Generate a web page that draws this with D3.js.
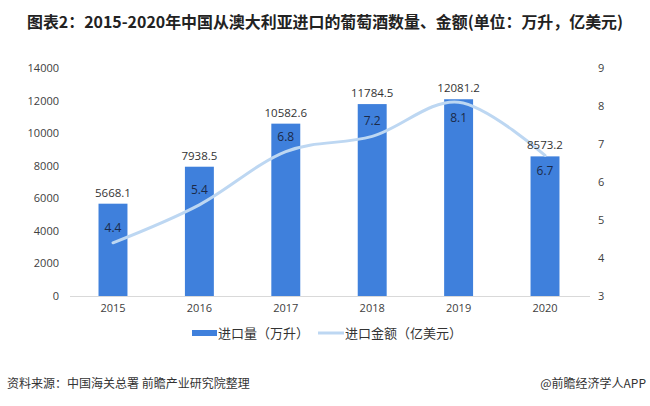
<!DOCTYPE html>
<html><head><meta charset="utf-8">
<script src="https://cdn.jsdelivr.net/npm/d3@7/dist/d3.min.js"></script>
<style>body{margin:0;background:#fff;}svg{display:block;font-family:"Noto Sans CJK SC","Noto Sans",sans-serif;}</style>
</head><body><svg id="c" width="650" height="406"></svg>
<script>
const years = ["2015","2016","2017","2018","2019","2020"];
const volume = [5668.1, 7938.5, 10582.6, 11784.5, 12081.2, 8573.2];
const amount = [4.4, 5.4, 6.8, 7.2, 8.1, 6.7];
const amountLabelSide = ["above","above","above","above","below","below"];
const leftTicks = [0,2000,4000,6000,8000,10000,12000,14000];
const rightTicks = [3,4,5,6,7,8,9];
const title = "图表2：2015-2020年中国从澳大利亚进口的葡萄酒数量、金额(单位：万升，亿美元)";
const legendLabels = ["进口量（万升）","进口金额（亿美元）"];
const source = "资料来源：中国海关总署 前瞻产业研究院整理";
const credit = "@前瞻经济学人APP";

const svg = d3.select("#c");
const barColor = "#3f80dc", lineColor = "#bdd7f2";
const L = 70, R = 588, T = 68, B = 296;

const x = d3.scaleBand().domain(years).range([L, R]).paddingInner(0.665).paddingOuter(0.33);
const yL = d3.scaleLinear().domain([0,14000]).range([B,T]);
const yR = d3.scaleLinear().domain([3,9]).range([B,T]);

svg.append("text").attr("x",27).attr("y",28).attr("font-size",16).attr("font-weight","bold")
  .attr("fill","#222").attr("textLength",596).attr("lengthAdjust","spacingAndGlyphs").text(title);

// axes
const gl = svg.append("g").attr("transform",`translate(${L},0)`)
  .call(d3.axisLeft(yL).tickValues(leftTicks).tickSize(0).tickPadding(11).tickFormat(d3.format("d")));
gl.select(".domain").remove();
const gr = svg.append("g").attr("transform",`translate(${R},0)`)
  .call(d3.axisRight(yR).tickValues(rightTicks).tickSize(0).tickPadding(10).tickFormat(d3.format("d")));
gr.select(".domain").remove();
[gl,gr].forEach(g=>g.selectAll("text").attr("font-size",11).attr("fill","#404040").attr("font-family","'Open Sans',sans-serif"));

const gx = svg.append("g").attr("transform",`translate(0,${B})`)
  .call(d3.axisBottom(x).tickSize(0).tickPadding(8));
gx.select(".domain").attr("stroke","#d9d9d9").attr("d",`M${L},0.5H${R+2}`);
gx.selectAll("text").attr("font-size",11).attr("fill","#404040").attr("font-family","'Open Sans',sans-serif");

// bars
svg.append("g").selectAll("rect").data(years).join("rect")
  .attr("x",d=>x(d)).attr("width",x.bandwidth())
  .attr("y",(d,i)=>yL(volume[i])).attr("height",(d,i)=>B-yL(volume[i]))
  .attr("fill",barColor);

// line
const line = d3.line().x((d,i)=>x(years[i])+x.bandwidth()/2).y(d=>yR(d)).curve(d3.curveCardinal.tension(0));
svg.append("path").datum(amount).attr("d",line).attr("fill","none")
  .attr("stroke",lineColor).attr("stroke-width",3).attr("stroke-linecap","round");

svg.append("g").selectAll("text").data(years).join("text")
  .attr("x",d=>x(d)+x.bandwidth()/2).attr("y",(d,i)=>yL(volume[i])-7)
  .attr("text-anchor","middle").attr("font-size",11.5).attr("fill","#333")
  .attr("font-family","'Open Sans',sans-serif").text((d,i)=>volume[i].toFixed(1));

svg.append("g").selectAll("text").data(amount).join("text")
  .attr("x",(d,i)=>x(years[i])+x.bandwidth()/2)
  .attr("y",(d,i)=>amountLabelSide[i]==="above"? yR(d)-11 : yR(d)+20)
  .attr("text-anchor","middle").attr("font-size",12).attr("fill","#1b2a48")
  .attr("font-family","'Open Sans',sans-serif").text(d=>d.toFixed(1));

// legend
const lg = svg.append("g");
lg.append("rect").attr("x",192).attr("y",330).attr("width",25).attr("height",6).attr("fill",barColor);
lg.append("text").attr("x",218).attr("y",338).attr("font-size",13).attr("fill","#333").text(legendLabels[0]);
lg.append("line").attr("x1",318).attr("x2",344).attr("y1",333).attr("y2",333).attr("stroke",lineColor).attr("stroke-width",3);
lg.append("text").attr("x",345).attr("y",338).attr("font-size",13).attr("fill","#333").text(legendLabels[1]);

svg.append("text").attr("x",7).attr("y",388).attr("font-size",12).attr("fill","#333").text(source);
svg.append("text").attr("x",646).attr("y",388).attr("text-anchor","end").attr("font-size",12).attr("fill","#333").text(credit);
</script></body></html>
